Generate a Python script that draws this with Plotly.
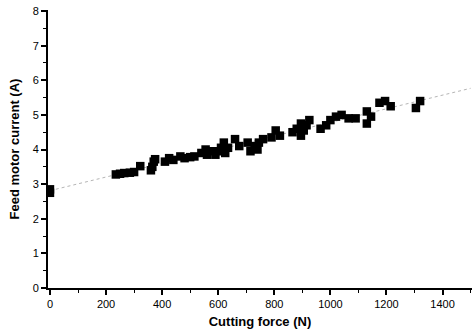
import numpy as np
import plotly.graph_objects as go

# Cutting force (N) and feed motor current (A) measurements
force = [0, 0, 235, 250, 265, 285, 300, 322, 360, 365, 370, 375, 410, 425, 440,
         465, 480, 500, 515, 540, 555, 560, 570, 590, 600, 610, 620, 625, 635,
         660, 675, 705, 715, 730, 740, 745, 760, 790, 805, 820, 865, 880, 895,
         895, 905, 915, 925, 965, 985, 1000, 1020, 1040, 1065, 1090, 1130,
         1130, 1145, 1175, 1195, 1215, 1305, 1320]
current = [2.75, 2.85, 3.28, 3.3, 3.32, 3.33, 3.35, 3.52, 3.4, 3.5, 3.65, 3.72,
           3.65, 3.75, 3.7, 3.8, 3.75, 3.78, 3.8, 3.9, 4.0, 3.85, 3.95, 3.85,
           3.95, 4.05, 4.2, 3.9, 4.05, 4.3, 4.1, 4.2, 3.95, 4.1, 4.0, 4.2, 4.3,
           4.35, 4.55, 4.4, 4.5, 4.6, 4.75, 4.4, 4.55, 4.7, 4.85, 4.6, 4.7,
           4.85, 4.95, 5.0, 4.9, 4.9, 5.1, 4.75, 4.95, 5.35, 5.4, 5.25, 5.2, 5.4]

x_ticks = [0, 200, 400, 600, 800, 1000, 1200, 1400]
y_ticks = [0, 1, 2, 3, 4, 5, 6, 7, 8]

# Least-squares trend line over the full force range
slope, intercept = np.polyfit(force, current, 1)
fit_x = np.array([0, 1500])
fit_y = slope * fit_x + intercept

fig = go.Figure()
fig.add_trace(go.Scatter(
    x=fit_x, y=fit_y, mode="lines",
    line=dict(color="#b5b5b5", width=1, dash="dot"),
    hoverinfo="skip", showlegend=False,
))
fig.add_trace(go.Scatter(
    x=force, y=current, mode="markers",
    marker=dict(symbol="square", size=8.5, color="black", line=dict(width=0)),
    showlegend=False,
))

axis_font = dict(family="Liberation Sans, Arial, sans-serif", size=11, color="black")
title_font = dict(family="Liberation Sans, Arial, sans-serif", size=13, color="black")

fig.update_xaxes(
    range=[-7, 1505], tickvals=x_ticks, ticktext=[str(v) for v in x_ticks],
    showgrid=False, zeroline=False, showline=True, linecolor="black", linewidth=2,
    ticks="outside", ticklen=5, tickwidth=1.5, tickcolor="black",
    minor=dict(dtick=100, tick0=0, ticks="outside", ticklen=3, tickcolor="black", tickwidth=1),
    tickfont=axis_font,
    title=dict(text="<b>Cutting force (N)</b>", font=title_font, standoff=8),
)
fig.update_yaxes(
    range=[0, 8.03], tickvals=y_ticks, ticktext=[str(v) for v in y_ticks],
    showgrid=False, zeroline=False, showline=True, linecolor="black", linewidth=2,
    ticks="outside", ticklen=5, tickwidth=1.5, tickcolor="black",
    minor=dict(dtick=0.5, tick0=0, ticks="outside", ticklen=3, tickcolor="black", tickwidth=1),
    tickfont=axis_font,
    title=dict(text="<b>Feed motor current (A)</b>", font=title_font, standoff=10),
)

fig.update_layout(
    width=473, height=335,
    margin=dict(l=48, r=1, t=10, b=47),
    paper_bgcolor="white", plot_bgcolor="white",
)

fig.write_html("out.html")
